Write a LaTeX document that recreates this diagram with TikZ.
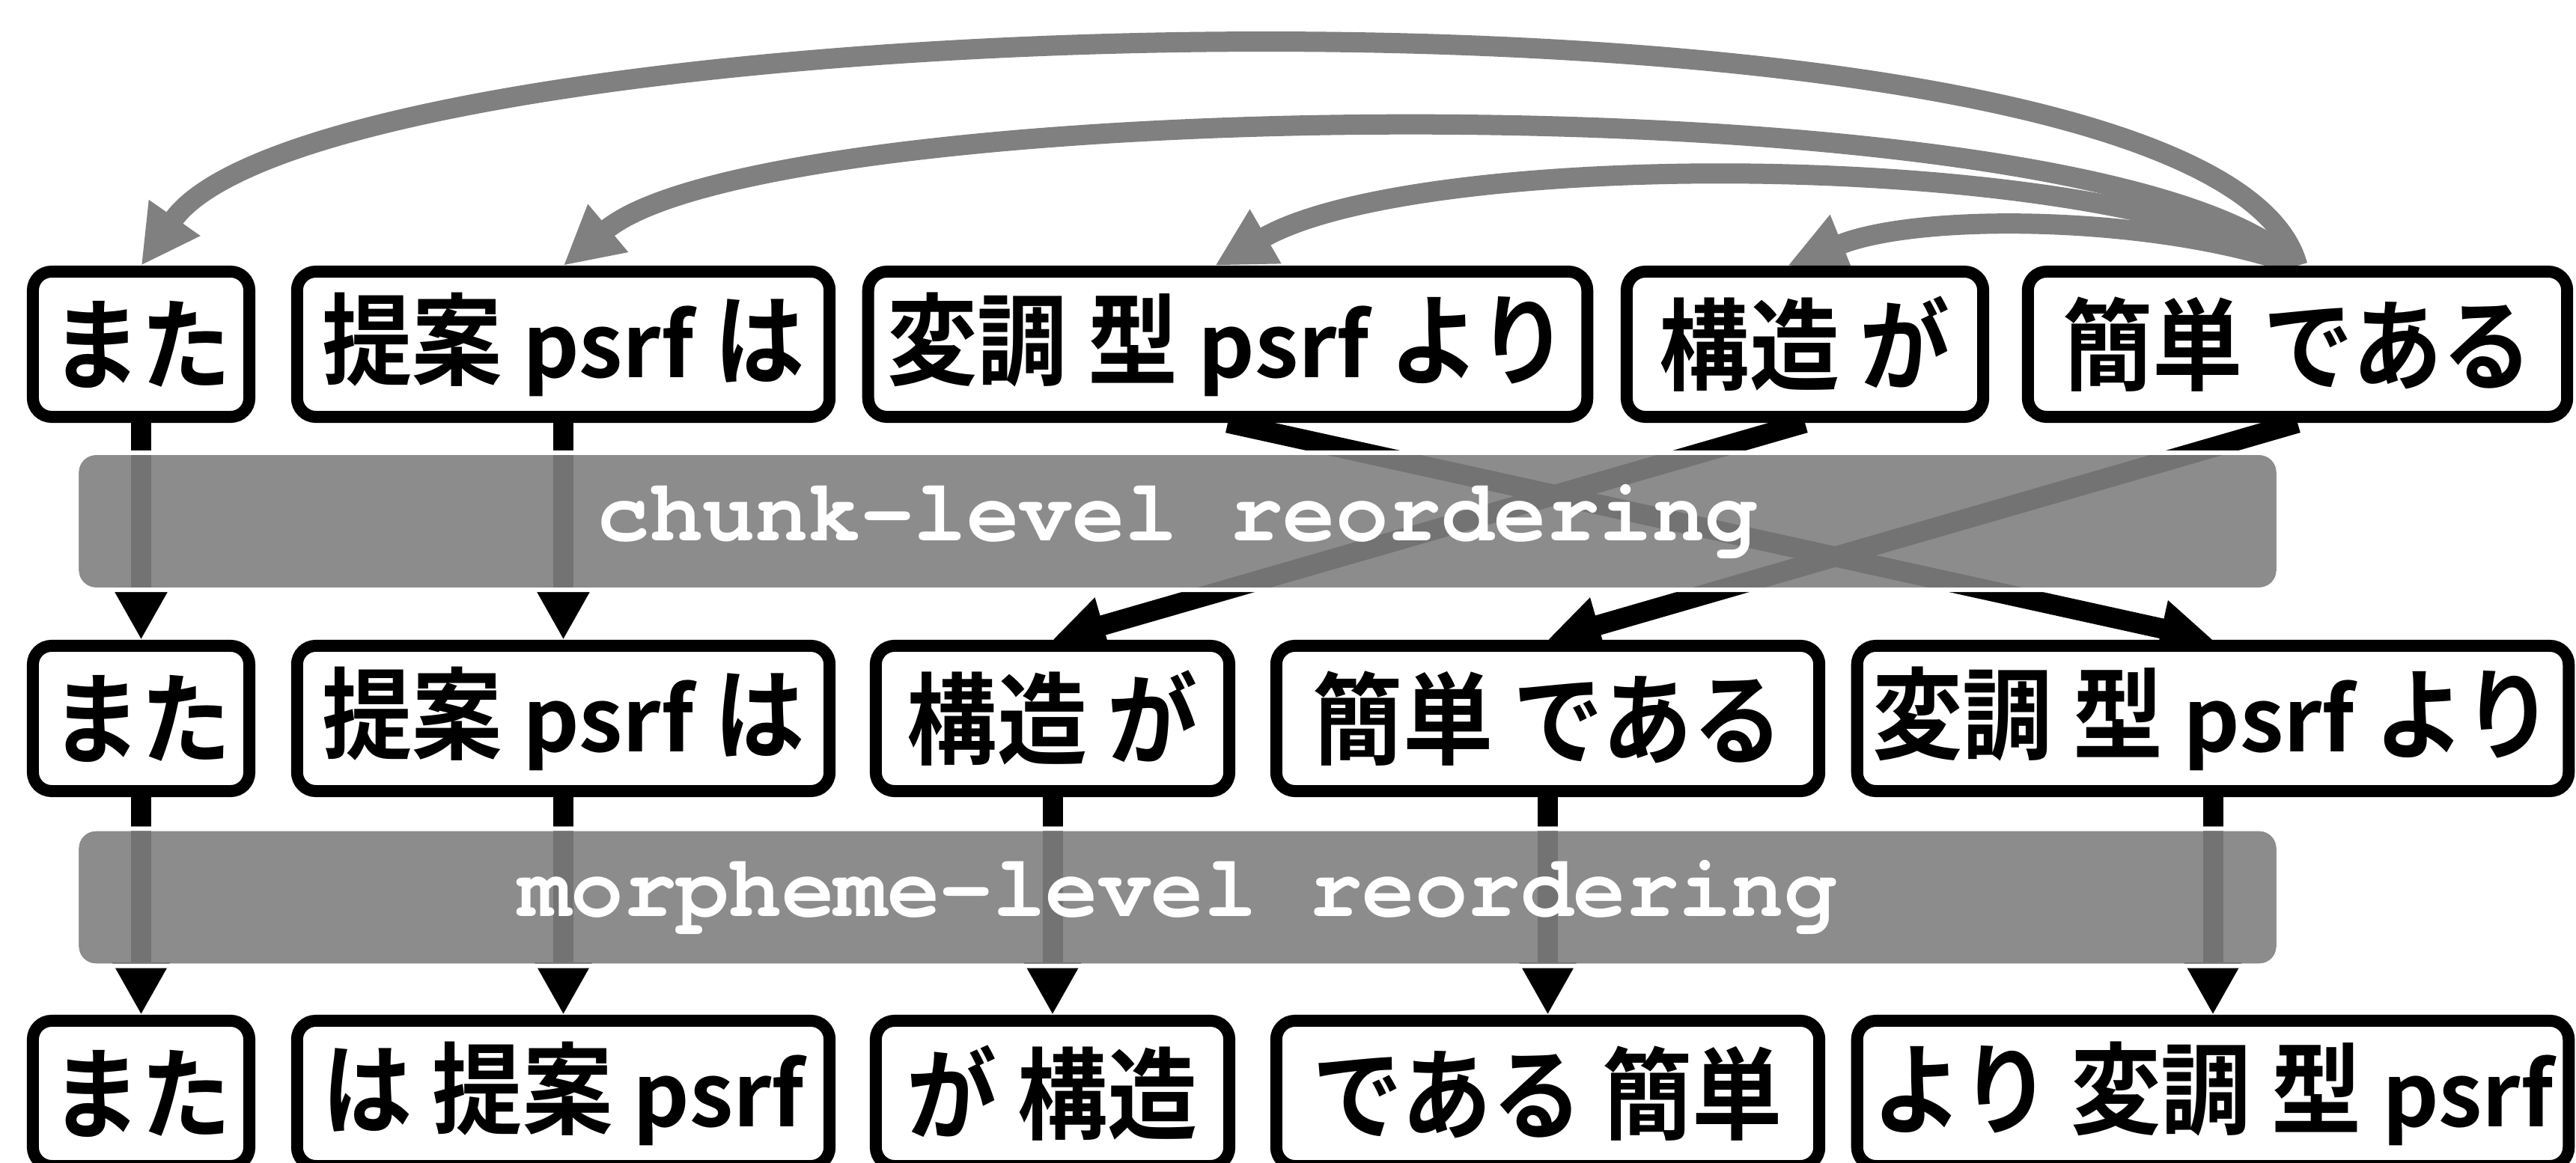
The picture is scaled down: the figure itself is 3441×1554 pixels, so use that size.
\documentclass[tikz,border=0pt]{standalone}
\usepackage{fontspec}
\usetikzlibrary{arrows.meta,backgrounds}
\newfontfamily\jpfam[FakeStretch=0.9]{Noto Sans CJK JP Bold}
\newfontfamily\jplat{Noto Sans CJK JP Bold}
\newfontfamily\monofam{TeX Gyre Cursor}
\newcommand\jptext{\jpfam\fontsize{38}{41}\selectfont}
\newcommand\monotext{\monofam\bfseries\fontsize{33.4}{36}\selectfont}
\newcommand\ps{{\jplat\fontsize{33.5}{36}\selectfont psrf}}
\definecolor{garrow}{gray}{0.5}
\definecolor{bandgray}{gray}{0.5}
\begin{document}
\begin{tikzpicture}[x=0.01cm, y=0.01cm,
  wbox/.style={draw=black, line width=0.16cm, rounded corners=0.25cm, fill=white,
    minimum height=1.94cm, inner sep=0pt, font=\jptext},
  conn/.style={draw=black, line width=0.27cm, -{Triangle[width=0.72cm,length=0.70cm]}},
  gconn/.style={draw=garrow, line width=0.27cm, -{Triangle[width=0.78cm,length=0.78cm]}},
  band/.style={fill=bandgray, fill opacity=0.9, text opacity=1, text=white,
    rounded corners=0.23cm, minimum width=29.34cm, minimum height=1.77cm,
    inner sep=0pt, outer sep=0pt, font=\monotext},
  ring/.style={draw=white, line width=0.06cm, rounded corners=0.26cm}
]
\useasboundingbox (0,0) rectangle (3441,1554);

% row 1
\node[wbox, minimum width=2.89cm] (a1) at (188.5,1094) {また};
\node[wbox, minimum width=7.11cm] (b1) at (752.5,1094) {提案 \ps\ は};
\node[wbox, minimum width=9.60cm] (c1) at (1640,1094) {変調 型 \ps\ より};
\node[wbox, minimum width=4.76cm] (d1) at (2411,1094) {構造 が};
\node[wbox, minimum width=7.20cm] (e1) at (3069,1094) {簡単 である};
% row 2
\node[wbox, minimum width=2.89cm] (a2) at (188.5,594) {また};
\node[wbox, minimum width=7.11cm] (b2) at (752.5,594) {提案 \ps\ は};
\node[wbox, minimum width=4.72cm] (d2) at (1406,594) {構造 が};
\node[wbox, minimum width=7.25cm] (e2) at (2067.5,594) {簡単 である};
\node[wbox, minimum width=9.50cm] (c2) at (2956,594) {変調 型 \ps\ より};
% row 3
\node[wbox, minimum width=2.89cm] (a3) at (188.5,93) {また};
\node[wbox, minimum width=7.11cm] (b3) at (752.5,93) {は 提案 \ps};
\node[wbox, minimum width=4.72cm] (d3) at (1406,93) {が 構造};
\node[wbox, minimum width=7.25cm] (e3) at (2067.5,93) {である 簡単};
\node[wbox, minimum width=9.50cm] (c3) at (2956,93) {より 変調 型 \ps};

\begin{scope}[on background layer]
  \draw[conn] (a1.south) -- (a2.north);
  \draw[conn] (b1.south) -- (b2.north);
  \draw[conn] (c1.south) -- (c2.north);
  \draw[conn] (d1.south) -- (d2.north);
  \draw[conn] (e1.south) -- (e2.north);
  \draw[conn] (a2.south) -- (a3.north);
  \draw[conn] (b2.south) -- (b3.north);
  \draw[conn] (d2.south) -- (d3.north);
  \draw[conn] (e2.south) -- (e3.north);
  \draw[conn] (c2.south) -- (c3.north);
  \draw[gconn] (e1.north) .. controls +(105:436) and +(55:436) .. (a1.north);
  \draw[gconn] (e1.north) .. controls +(135:361) and +(40:361) .. (b1.north);
  \draw[gconn] (e1.north) .. controls +(150:315) and +(30:315) .. ([xshift=-0.17cm]c1.north);
  \draw[gconn] (e1.north) .. controls +(160:193) and +(22:193) .. ([xshift=-0.23cm]d1.north);
\end{scope}

% reordering bands
\node[band] (cb) at (1573,857.5) {chunk-level reordering};
\node[band] (mb) at (1573,355) {morpheme-level reordering};
\draw[ring] ([shift={(-3,-3)}]cb.south west) rectangle ([shift={(3,3)}]cb.north east);
\draw[ring] ([shift={(-3,-3)}]mb.south west) rectangle ([shift={(3,3)}]mb.north east);
\end{tikzpicture}
\end{document}
